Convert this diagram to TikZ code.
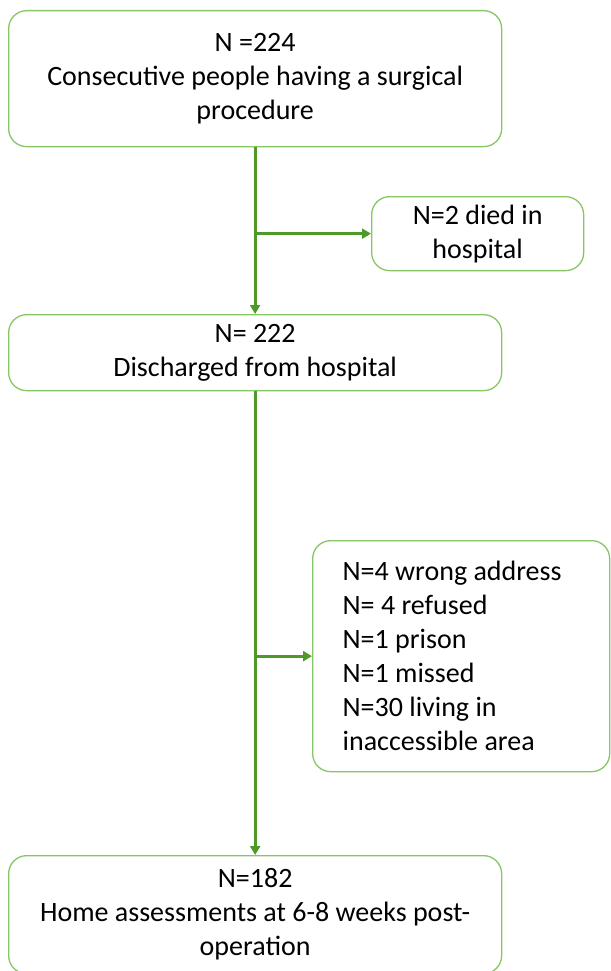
\documentclass[tikz,border=0pt]{standalone}
\usepackage{fontspec}
\setmainfont{Carlito}
\usetikzlibrary{arrows.meta}
\definecolor{boxgreen}{RGB}{135,198,100}
\definecolor{linegreen}{RGB}{78,154,40}
\begin{document}
\begin{tikzpicture}[x=1pt,y=-1pt,
  box/.style={draw=boxgreen, line width=1.3pt, rounded corners=18pt, inner sep=0pt,
    align=center, anchor=north west, font=\fontsize{28}{34}\selectfont},
  flow/.style={draw=linegreen, line width=2.8pt, -{Triangle[length=9pt,width=10pt]}}]
\useasboundingbox (0,0) rectangle (610,971);
\node[box, minimum width=493pt, minimum height=136pt] (b1) at (8,10)
  {N =224\\Consecutive people having a surgical\\procedure};
\node[box, minimum width=212pt, minimum height=74pt] (b2) at (371,196)
  {N=2 died in\\hospital};
\node[box, minimum width=493pt, minimum height=76pt] (b3) at (8,314)
  {N= 222\\Discharged from hospital};
\node[box, minimum width=297pt, minimum height=231pt, text width=237pt, inner xsep=30pt, align=flush left] (b4) at (312,540)
  {N=4 wrong address\\N= 4 refused\\N=1 prison\\N=1 missed\\N=30 living in\\inaccessible area};
\node[box, minimum width=493pt, minimum height=118pt] (b5) at (8,855)
  {N=182\\Home assessments at 6-8 weeks post-\\operation};
\draw[flow] (b1.south) -- (b3.north);
\draw[flow] (b1.south |- b2.west) -- (b2.west);
\draw[flow] (b3.south) -- (b5.north);
\draw[flow] (b3.south |- b4.west) -- (b4.west);
\end{tikzpicture}
\end{document}
